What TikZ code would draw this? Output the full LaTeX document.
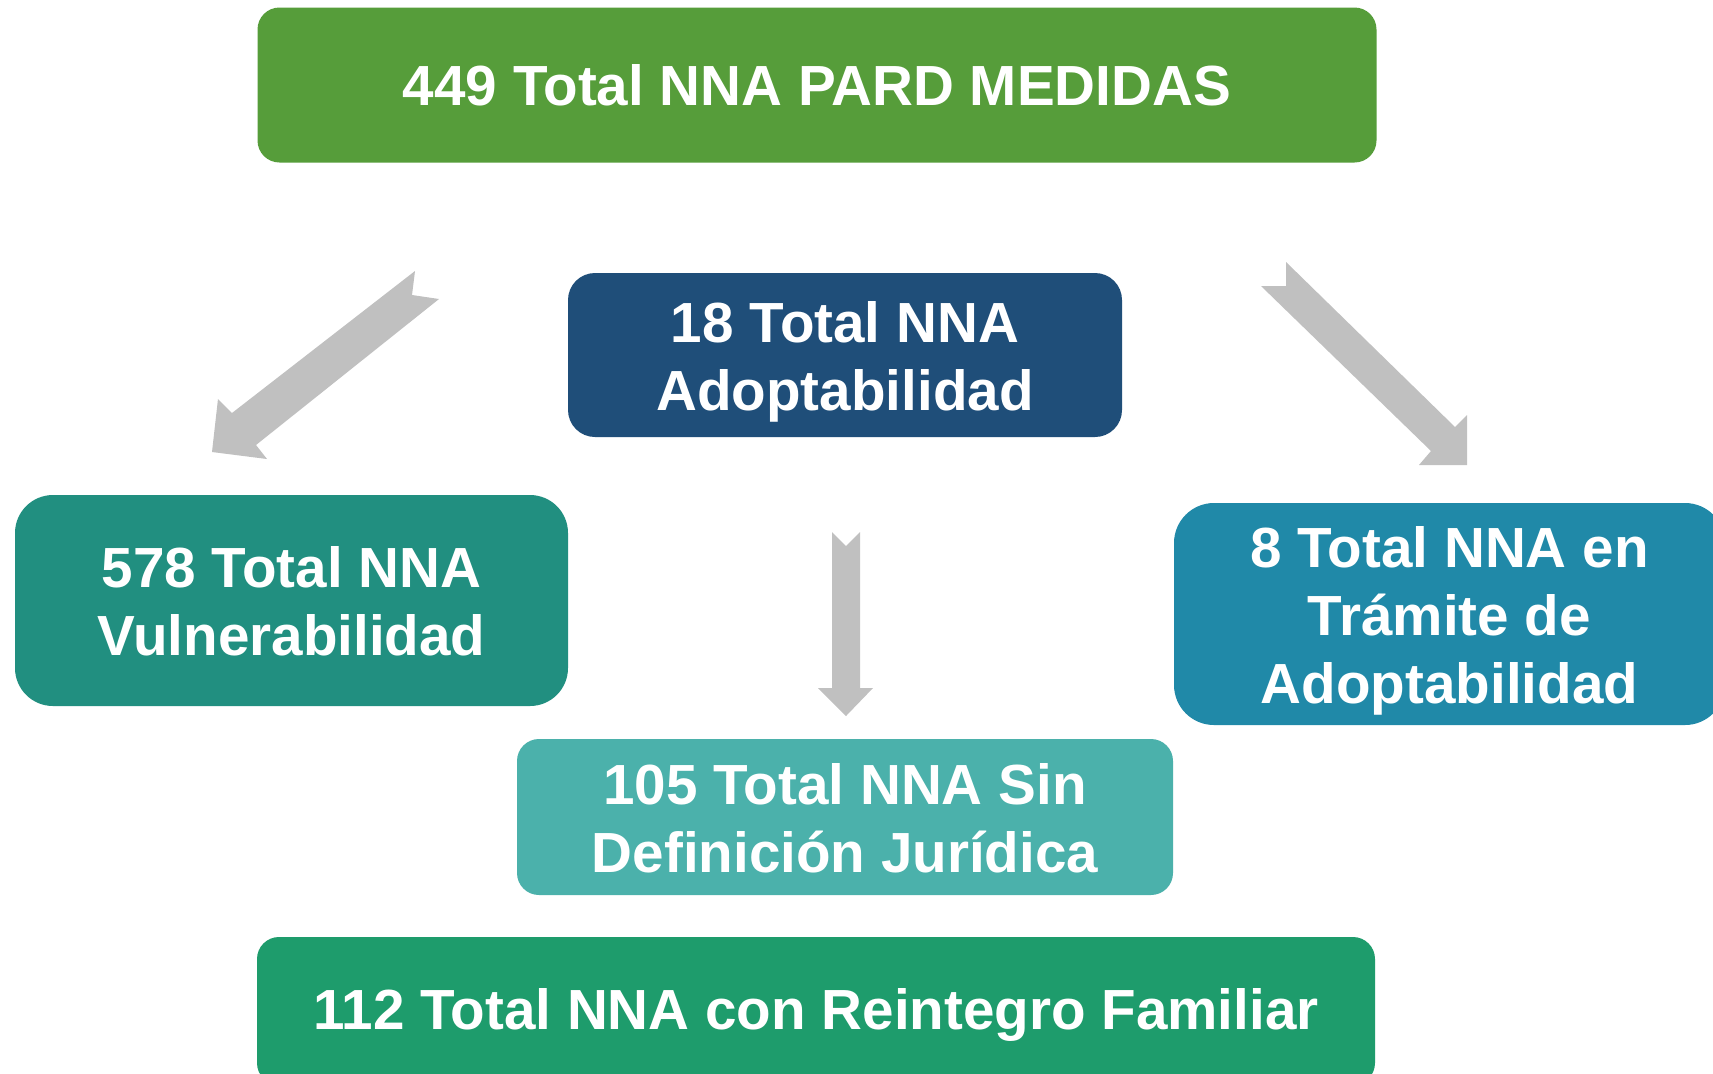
\documentclass[tikz,border=0pt]{standalone}
\usepackage{fontspec}
\setmainfont{Liberation Sans}
\definecolor{cTop}{RGB}{86,157,58}
\definecolor{cAdopt}{RGB}{31,78,121}
\definecolor{cVul}{RGB}{33,143,128}
\definecolor{cTram}{RGB}{32,137,168}
\definecolor{cSin}{RGB}{75,177,171}
\definecolor{cRei}{RGB}{30,156,108}
\definecolor{cArrow}{RGB}{192,192,192}
\tikzset{
  box/.style={rectangle, inner sep=0pt},
  boxtext/.style={inner sep=0pt, text=white, align=center,
    font=\fontsize{28.3}{34}\selectfont\bfseries},
  blockarrow/.style={fill=cArrow, draw=none}
}
\begin{document}
\begin{tikzpicture}[x=0.5pt,y=-0.5pt]
\useasboundingbox (0,0) rectangle (1713,1073);
\clip (0,0) rectangle (1713,1073);
\fill[white] (0,0) rectangle (1713,1073);

\node[box, fill=cTop, rounded corners=11pt, minimum width=559.5pt, minimum height=77.5pt]
  (top) at (817,85) {};
\node[boxtext] (topT) at ([yshift=0pt]top.center) {449 Total NNA PARD MEDIDAS};

\node[box, fill=cAdopt, rounded corners=13.5pt, minimum width=277pt, minimum height=82pt]
  (adopt) at (845,355) {};
\node[boxtext] (adoptT) at ([yshift=-3.5pt]adopt.center) {18 Total NNA\\Adoptabilidad};

\node[box, fill=cVul, rounded corners=19pt, minimum width=276.5pt, minimum height=105.5pt]
  (vul) at (291.5,600.5) {};
\node[boxtext] (vulT) at ([yshift=-0.5pt]vul.center) {578 Total NNA\\Vulnerabilidad};

\node[box, fill=cTram, rounded corners=20pt, minimum width=275.5pt, minimum height=111pt]
  (tram) at (1449.5,614) {};
\node[boxtext] (tramT) at ([yshift=-3.5pt]tram.center) {8 Total NNA en\\Trámite de\\Adoptabilidad};

\node[box, fill=cSin, rounded corners=11pt, minimum width=328pt, minimum height=78pt]
  (sin) at (845,817) {};
\node[boxtext] (sinT) at ([yshift=-0.5pt]sin.center) {105 Total NNA Sin\\Definición Jurídica};

\node[box, fill=cRei, rounded corners=11pt, minimum width=559pt, minimum height=74pt]
  (rei) at (816,1011) {};
\node[boxtext] (reiT) at ([yshift=-2pt]rei.center) {112 Total NNA con Reintegro Familiar};

% left block arrow
\fill[blockarrow] (415,271) -- (412,295) -- (439,299) -- (256,445) -- (267,459)
  -- (212,452) -- (218,399) -- (232,413) -- cycle;
% right block arrow
\fill[blockarrow] (1286,262) -- (1286,286) -- (1261,286) -- (1431,451) -- (1419,465)
  -- (1467,465) -- (1467,415) -- (1455,427) -- cycle;
% middle block arrow
\fill[blockarrow] (832,532) -- (846,546) -- (860,532) -- (860,688) -- (873,688)
  -- (846,716) -- (818,688) -- (832,688) -- cycle;
\end{tikzpicture}
\end{document}
